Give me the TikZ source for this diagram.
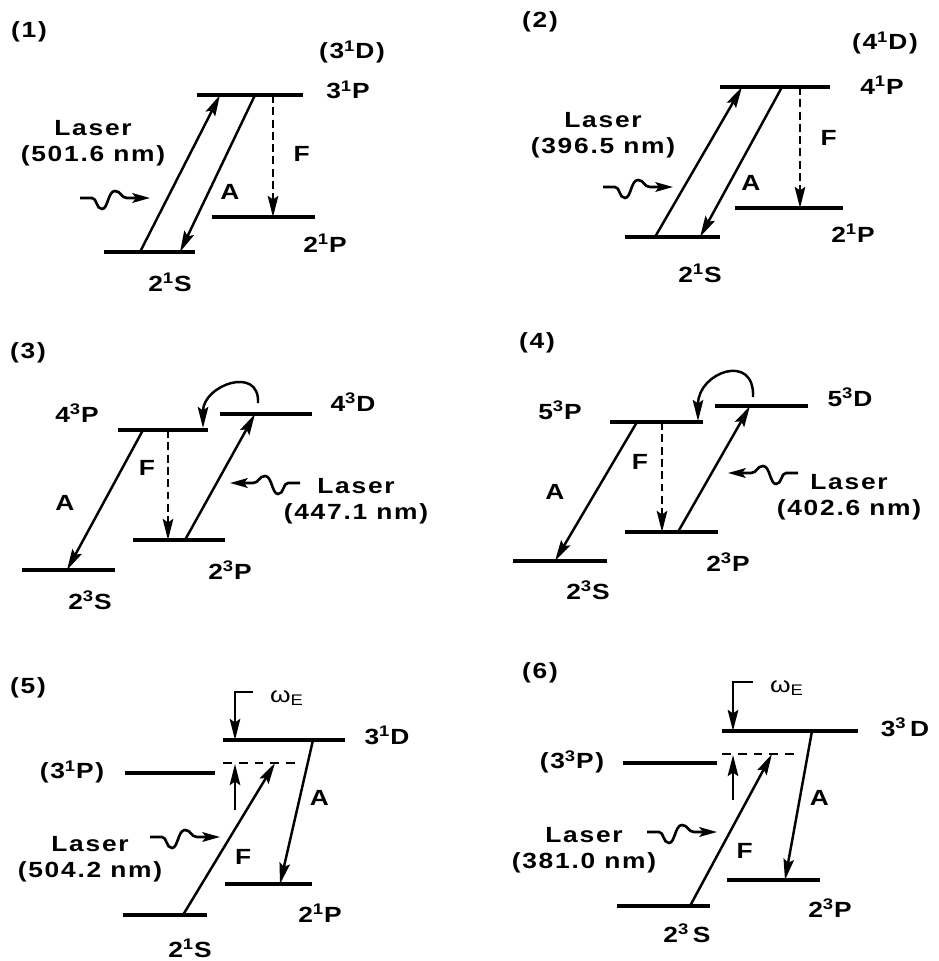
\documentclass[tikz,border=0pt]{standalone}
\usepackage{fontspec}
\setmainfont{Liberation Sans}[FakeStretch=1.2, LetterSpace=8]
\usetikzlibrary{arrows.meta, positioning, calc}

\newcommand{\term}[3]{#1\textsuperscript{#2}#3}

\begin{document}
\begin{tikzpicture}[
  x=0.02cm, y=-0.02cm,
  level/.style={line width=1.8pt},
  trans/.style={-{Stealth[length=12pt, width=6pt, inset=2pt]}, line width=1.4pt},
  fluor/.style={trans, dash pattern=on 4.5pt off 2.5pt},
  virtual/.style={line width=1.4pt, dash pattern=on 5pt off 4pt},
  lbl/.style={font=\fontsize{12.5}{15}\selectfont\bfseries, inner sep=1pt, align=center},
  laser/.pic={\draw[line width=1.5pt, -{Stealth[length=10pt, width=5.5pt, inset=2pt]}]
      (0,0) -- (12,0) .. controls (17,0) and (16,11) .. (22,11)
      .. controls (28,11) and (28,-7) .. (35,-7)
      .. controls (41,-7) and (41,0) .. (47,0) -- (70,0);},
]
\useasboundingbox (0,0) rectangle (938,961);

% ---- (1) ----
\node[lbl] (n1) at (29,32) {(1)};
\coordinate (p1hi) at (197,95);
\coordinate (p1s)  at (104,252);
\coordinate (p1p)  at (212,217);
\draw[level] (p1hi) -- ++(106,0);
\draw[level] (p1s) -- ++(91,0);
\draw[level] (p1p) -- ++(103,0);
\node[lbl] (l1d) at (352,52)  {(\term{3}{1}{D})};
\node[lbl] (l1hi) at (348,90) {\term{3}{1}{P}};
\node[lbl] (l1s) at (170,282) {\term{2}{1}{S}};
\node[lbl] (l1p) at (325,243) {\term{2}{1}{P}};
\draw[trans] ($(p1s)+(36,0)$) -- ($(p1hi)+(23,0)$);
\draw[trans] ($(p1hi)+(58,0)$) -- node[lbl, pos=.62, right=5pt] (a1) {A} ($(p1s)+(76,0)$);
\draw[fluor] ($(p1hi)+(76,0)$) -- node[lbl, pos=.48, right=10pt] (f1) {F} ($(p1p)+(61,0)$);
\node[lbl] (las1) at (93,143) {Laser\\(501.6 nm)};
\pic at (80,198) {laser};

% ---- (2) ----
\node[lbl] (n2) at (540,22) {(2)};
\coordinate (p2hi) at (720,87);
\coordinate (p2s)  at (625,237);
\coordinate (p2p)  at (735,208);
\draw[level] (p2hi) -- ++(110,0);
\draw[level] (p2s) -- ++(95,0);
\draw[level] (p2p) -- ++(108,0);
\node[lbl] (l2d) at (885,43)  {(\term{4}{1}{D})};
\node[lbl] (l2hi) at (882,85) {\term{4}{1}{P}};
\node[lbl] (l2s) at (700,273) {\term{2}{1}{S}};
\node[lbl] (l2p) at (853,233) {\term{2}{1}{P}};
\draw[trans] ($(p2s)+(30,0)$) -- ($(p2hi)+(22,0)$);
\draw[trans] ($(p2hi)+(62,0)$) -- node[lbl, pos=.64, right=5pt] (a2) {A} ($(p2s)+(75,0)$);
\draw[fluor] ($(p2hi)+(80,0)$) -- node[lbl, pos=.42, right=10pt] (f2) {F} ($(p2p)+(65,0)$);
\node[lbl] (las2) at (603,135) {Laser\\(396.5 nm)};
\pic at (603,187) {laser};

% ---- (3) ----
\node[lbl] (n3) at (28,353) {(3)};
\coordinate (p3p4) at (118,430);
\coordinate (p3d4) at (220,414);
\coordinate (p3s)  at (22,570);
\coordinate (p3p2) at (133,540);
\draw[level] (p3p4) -- ++(90,0);
\draw[level] (p3d4) -- ++(92,0);
\draw[level] (p3s) -- ++(93,0);
\draw[level] (p3p2) -- ++(92,0);
\node[lbl] (l3p4) at (77,413)  {\term{4}{3}{P}};
\node[lbl] (l3d4) at (353,402) {\term{4}{3}{D}};
\node[lbl] (l3s)  at (90,600)  {\term{2}{3}{S}};
\node[lbl] (l3p2) at (230,570) {\term{2}{3}{P}};
\draw[trans] ($(p3p4)+(25,0)$) -- ($(p3s)+(45,0)$);
\draw[fluor] ($(p3p4)+(50,0)$) -- ($(p3p2)+(35,0)$);
\draw[trans] ($(p3p2)+(52,0)$) -- ($(p3d4)+(35,0)$);
\draw[trans] ($(p3d4)+(38,-11)$) .. controls +(2,-38) and +(0,-43) .. ($(p3p4)+(85,-2)$);
\node[lbl] (a3) at (65,503)  {A};
\node[lbl] (f3) at (147,468) {F};
\node[lbl] (las3) at (356,501) {Laser\\(447.1 nm)};
\pic[xscale=-1] at (300,483) {laser};

% ---- (4) ----
\node[lbl] (n4) at (537,343) {(4)};
\coordinate (p4p5) at (610,422);
\coordinate (p4d5) at (715,406);
\coordinate (p4s)  at (513,561);
\coordinate (p4p2) at (625,532);
\draw[level] (p4p5) -- ++(93,0);
\draw[level] (p4d5) -- ++(93,0);
\draw[level] (p4s) -- ++(94,0);
\draw[level] (p4p2) -- ++(93,0);
\node[lbl] (l4p5) at (560,410) {\term{5}{3}{P}};
\node[lbl] (l4d5) at (850,397) {\term{5}{3}{D}};
\node[lbl] (l4s)  at (588,590) {\term{2}{3}{S}};
\node[lbl] (l4p2) at (728,562) {\term{2}{3}{P}};
\draw[trans] ($(p4p5)+(27,0)$) -- ($(p4s)+(42,0)$);
\draw[fluor] ($(p4p5)+(52,0)$) -- ($(p4p2)+(37,0)$);
\draw[trans] ($(p4p2)+(53,0)$) -- ($(p4d5)+(35,0)$);
\draw[trans] ($(p4d5)+(38,-9)$) .. controls +(2,-45) and +(0,-49) .. ($(p4p5)+(88,-1)$);
\node[lbl] (a4) at (555,492) {A};
\node[lbl] (f4) at (640,462) {F};
\node[lbl] (las4) at (849,497) {Laser\\(402.6 nm)};
\pic[xscale=-1] at (798,473) {laser};

% ---- (5) ----
\node[lbl] (n5) at (28,688) {(5)};
\coordinate (p5d)  at (223,740);
\coordinate (p5v)  at (223,763);
\coordinate (p5p3) at (125,773);
\coordinate (p5s)  at (123,915);
\coordinate (p5p2) at (225,884);
\coordinate (w5)   at (253,692);
\coordinate (u5)   at (235,810);
\draw[level] (p5d) -- ++(122,0);
\draw[virtual] (p5v) -- ++(79,0);
\draw[level] (p5p3) -- ++(90,0);
\draw[level] (p5s) -- ++(84,0);
\draw[level] (p5p2) -- ++(87,0);
\node[lbl] (l5d)  at (387,735) {\term{3}{1}{D}};
\node[lbl] (l5p3) at (72,772)  {(\term{3}{1}{P})};
\node[lbl] (l5s)  at (190,948) {\term{2}{1}{S}};
\node[lbl] (l5p2) at (320,913) {\term{2}{1}{P}};
\draw[trans] (w5) -| ($(p5d)+(12,0)$);
\node[lbl, font=\fontsize{12.5}{15}\selectfont] (om5) at (287,698) {ω\textsubscript{E}};
\draw[trans] (u5) -- ($(p5v)+(12,1)$);
\draw[trans] ($(p5s)+(60,0)$) -- node[lbl, pos=.38, right=8pt] (f5) {F} ($(p5v)+(52,0)$);
\draw[trans] ($(p5d)+(90,0)$) -- node[lbl, pos=.4, right=4pt] (a5) {A} ($(p5p2)+(55,0)$);
\node[lbl] (las5) at (90,859) {Laser\\(504.2 nm)};
\pic at (150,837) {laser};

% ---- (6) ----
\node[lbl] (n6) at (540,673) {(6)};
\coordinate (p6d)  at (722,731);
\coordinate (p6v)  at (722,754);
\coordinate (p6p3) at (623,763);
\coordinate (p6s)  at (617,906);
\coordinate (p6p2) at (727,880);
\coordinate (w6)   at (753,682);
\coordinate (u6)   at (733,800);
\draw[level] (p6d) -- ++(136,0);
\draw[virtual] (p6v) -- ++(78,0);
\draw[level] (p6p3) -- ++(94,0);
\draw[level] (p6s) -- ++(93,0);
\draw[level] (p6p2) -- ++(93,0);
\node[lbl] (l6d)  at (905,727) {\term{3}{3}{\,D}};
\node[lbl] (l6p3) at (572,762) {(\term{3}{3}{P})};
\node[lbl] (l6s)  at (687,933) {\term{2}{3}{\,S}};
\node[lbl] (l6p2) at (830,908) {\term{2}{3}{P}};
\draw[trans] (w6) -| ($(p6d)+(11,0)$);
\node[lbl, font=\fontsize{12.5}{15}\selectfont] (om6) at (787,688) {ω\textsubscript{E}};
\draw[trans] (u6) -- ($(p6v)+(11,1)$);
\draw[trans] ($(p6s)+(73,0)$) -- node[lbl, pos=.36, right=8pt] (f6) {F} ($(p6v)+(50,0)$);
\draw[trans] ($(p6d)+(90,0)$) -- node[lbl, pos=.45, right=4pt] (a6) {A} ($(p6p2)+(58,0)$);
\node[lbl] (las6) at (584,850) {Laser\\(381.0 nm)};
\pic at (647,832) {laser};

\end{tikzpicture}
\end{document}
